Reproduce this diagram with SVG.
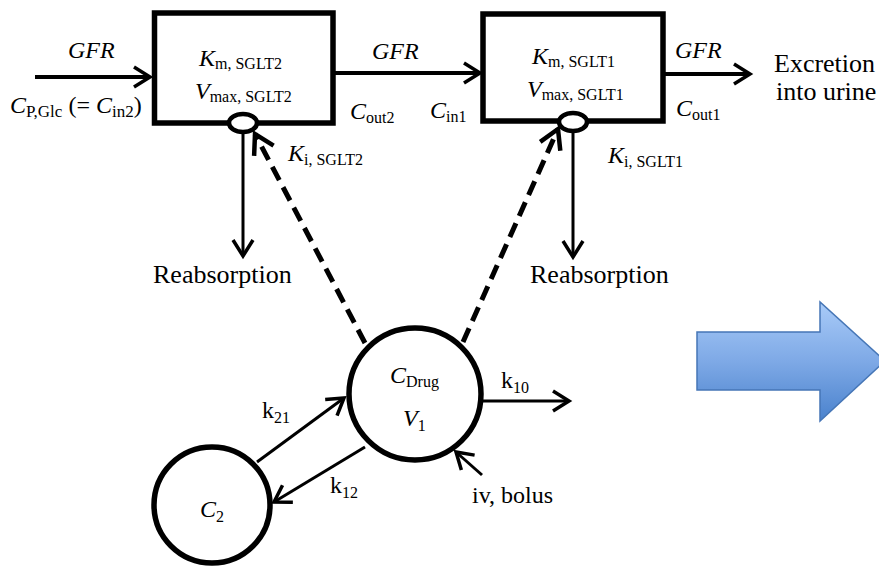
<svg xmlns="http://www.w3.org/2000/svg" width="879" height="568" viewBox="0 0 879 568">
  <style>
    text { font-family: "Liberation Serif", "Times New Roman", serif; fill: #000; }
    .i { font-style: italic; font-size: 24px; }
    .r { font-style: normal; font-size: 24px; }
    .s { font-style: normal; font-size: 16px; }
    .s17 { font-style: normal; font-size: 17px; }
    .big { font-size: 26px; }
    .box { fill: #fff; stroke: #000; stroke-width: 5.5; }
    .port { fill: #fff; stroke: #000; stroke-width: 4.5; }
    .comp { fill: #fff; stroke: #000; stroke-width: 5.5; }
    .flow { fill: none; stroke: #000; stroke-width: 4; marker-end: url(#head); }
    .thin { fill: none; stroke: #000; stroke-width: 3; marker-end: url(#head); }
    .inh { fill: none; stroke: #000; stroke-width: 5; stroke-dasharray: 15 8; marker-end: url(#headBold); }
  </style>
  <defs>
    <marker id="head" markerUnits="userSpaceOnUse" markerWidth="30" markerHeight="30" orient="auto" style="overflow:visible">
      <path d="M-16,-10 L0,0 L-16,10" fill="none" stroke="#000" stroke-width="3.5" stroke-dasharray="none"/>
    </marker>
    <marker id="headBold" markerUnits="userSpaceOnUse" markerWidth="30" markerHeight="30" orient="auto" style="overflow:visible">
      <path d="M-19,-11 L0,0 L-19,11" fill="none" stroke="#000" stroke-width="4.5" stroke-dasharray="none"/>
    </marker>
    <linearGradient id="blueFill" x1="0" y1="0" x2="0" y2="1">
      <stop offset="0" stop-color="#a9cbf8"/>
      <stop offset="0.5" stop-color="#7ea9e6"/>
      <stop offset="1" stop-color="#4a82cd"/>
    </linearGradient>
  </defs>

  <!-- connectors -->
  <g id="connectors">
    <line class="flow" x1="35" y1="77" x2="150" y2="77"/>
    <line class="flow" x1="334" y1="73" x2="480" y2="73"/>
    <line class="flow" x1="663" y1="74" x2="750" y2="74"/>
    <line class="thin" x1="243" y1="132" x2="243" y2="256"/>
    <line class="thin" x1="573" y1="131" x2="573" y2="257"/>
    <line class="inh" x1="365" y1="343" x2="255" y2="134"/>
    <line class="inh" x1="463" y1="342" x2="558" y2="129"/>
    <line class="thin" x1="257" y1="462" x2="344" y2="398"/>
    <line class="thin" x1="365" y1="447" x2="274" y2="502"/>
    <line class="thin" x1="483" y1="401" x2="569" y2="401"/>
    <line class="thin" x1="482" y1="475" x2="456" y2="452"/>
  </g>

  <!-- SGLT2 segment -->
  <g id="sglt2">
    <rect class="box" x="154.5" y="13" width="178.5" height="110"/>
    <ellipse class="port" cx="243" cy="123" rx="14" ry="9"/>
    <text x="199" y="66"><tspan class="i">K</tspan><tspan class="s" dy="3">m, SGLT2</tspan></text>
    <text x="195" y="99"><tspan class="i">V</tspan><tspan class="s" dy="3">max, SGLT2</tspan></text>
  </g>

  <!-- SGLT1 segment -->
  <g id="sglt1">
    <rect class="box" x="483" y="14" width="180" height="107"/>
    <ellipse class="port" cx="573" cy="122" rx="14" ry="9"/>
    <text x="532" y="64"><tspan class="i">K</tspan><tspan class="s" dy="3">m, SGLT1</tspan></text>
    <text x="527" y="97"><tspan class="i">V</tspan><tspan class="s" dy="3">max, SGLT1</tspan></text>
  </g>

  <!-- central compartment -->
  <g id="central">
    <circle class="comp" cx="415" cy="394" r="66"/>
    <text x="390" y="383"><tspan class="i">C</tspan><tspan class="s" dy="4">Drug</tspan></text>
    <text x="403" y="426"><tspan class="i">V</tspan><tspan class="s" dy="5">1</tspan></text>
  </g>

  <!-- peripheral compartment -->
  <g id="peripheral">
    <circle class="comp" cx="212" cy="505" r="58"/>
    <text x="200" y="517"><tspan class="i">C</tspan><tspan class="s" dy="5">2</tspan></text>
  </g>

  <!-- labels -->
  <g id="labels">
    <text class="i" x="68" y="58">GFR</text>
    <text class="i" x="372" y="59">GFR</text>
    <text class="i" x="675" y="58">GFR</text>
    <text x="10" y="113"><tspan class="i">C</tspan><tspan class="s17" dy="4">P,Glc</tspan><tspan class="r" dy="-4"> (= </tspan><tspan class="i">C</tspan><tspan class="s17" dy="4">in2</tspan><tspan class="r" dy="-4">)</tspan></text>
    <text x="350" y="119"><tspan class="i">C</tspan><tspan class="s" dy="4">out2</tspan></text>
    <text x="430" y="118"><tspan class="i">C</tspan><tspan class="s" dy="4">in1</tspan></text>
    <text x="676" y="116"><tspan class="i">C</tspan><tspan class="s" dy="4">out1</tspan></text>
    <text x="288" y="161"><tspan class="i">K</tspan><tspan class="s" dy="4">i, SGLT2</tspan></text>
    <text x="608" y="163"><tspan class="i">K</tspan><tspan class="s" dy="4">i, SGLT1</tspan></text>
    <text class="r big" x="153" y="283">Reabsorption</text>
    <text class="r big" x="530" y="283">Reabsorption</text>
    <text class="r big" x="774" y="72">Excretion</text>
    <text class="r big" x="776" y="100">into urine</text>
    <text x="262" y="418"><tspan class="r">k</tspan><tspan class="s" dy="5">21</tspan></text>
    <text x="330" y="493"><tspan class="r">k</tspan><tspan class="s" dy="5">12</tspan></text>
    <text x="501" y="388"><tspan class="r">k</tspan><tspan class="s" dy="5">10</tspan></text>
    <text class="r" x="472" y="503">iv, bolus</text>
  </g>

  <!-- block arrow -->
  <g id="next-step">
    <path d="M697,332 H820 V302 L885,361 L820,421 V390 H697 Z" fill="url(#blueFill)" stroke="#4676b6" stroke-width="1.5"/>
  </g>
</svg>
